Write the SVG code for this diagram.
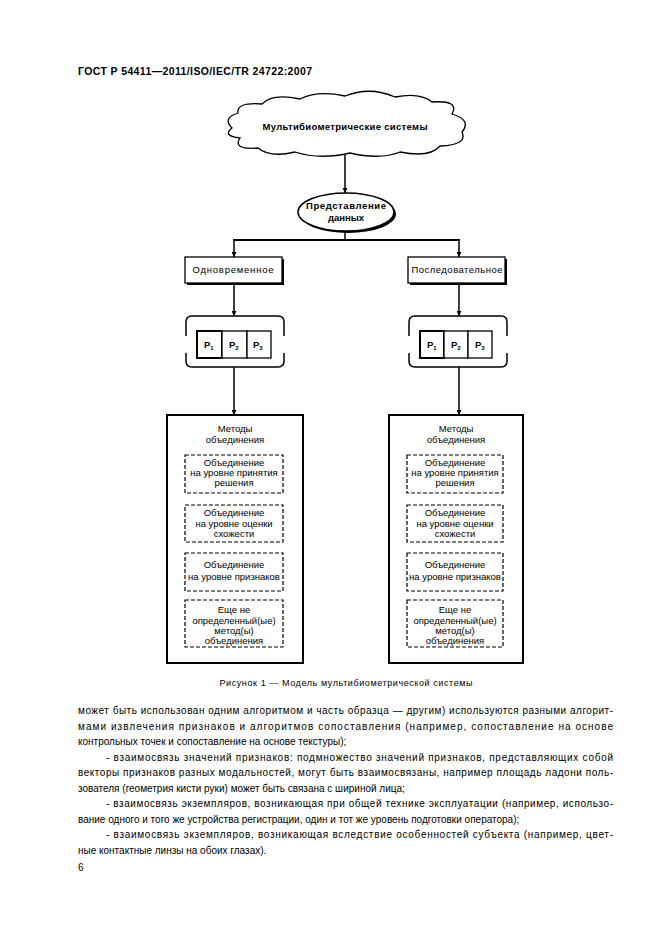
<svg xmlns="http://www.w3.org/2000/svg" width="661" height="936" viewBox="0 0 661 936">
<defs>
<marker id="arr" viewBox="0 0 10 10" refX="10" refY="5" markerWidth="5" markerHeight="5" orient="auto" markerUnits="userSpaceOnUse">
<path d="M0,0 L10,5 L0,10 z" fill="#000"/>
</marker>
<style>
text{font-family:"Liberation Sans",Arial,sans-serif;fill:#000}
.d{font-size:9.5px;text-anchor:middle}
.b{font-weight:bold}
.body{font-size:10px}
.ln{stroke:#000;stroke-width:1.5;fill:none}
.box{fill:#fff;stroke:#000;stroke-width:1.3}
.dash{fill:#fff;stroke:#000;stroke-width:1.2;stroke-dasharray:4 2}
.big{fill:#fff;stroke:#000;stroke-width:2}
</style>
</defs>
<rect width="661" height="936" fill="#fff"/>

<text x="78" y="75" font-size="10.5" font-weight="bold" textLength="234">ГОСТ Р 54411—2011/ISO/IEC/TR 24722:2007</text>

<g id="connectors">
<line class="ln" x1="345" y1="155" x2="345" y2="193" marker-end="url(#arr)"/>
<line class="ln" x1="345" y1="232" x2="345" y2="240"/>
<line x1="233" y1="240" x2="460" y2="240" stroke="#000" stroke-width="2"/>
<line class="ln" x1="234" y1="240" x2="234" y2="257" marker-end="url(#arr)"/>
<line class="ln" x1="459" y1="240" x2="459" y2="257" marker-end="url(#arr)"/>
<line class="ln" x1="234" y1="283" x2="234" y2="316" marker-end="url(#arr)"/>
<line class="ln" x1="459" y1="283" x2="459" y2="316" marker-end="url(#arr)"/>
<line class="ln" x1="234" y1="367" x2="234" y2="415" marker-end="url(#arr)"/>
<line class="ln" x1="459" y1="367" x2="459" y2="415" marker-end="url(#arr)"/>
</g>

<g id="cloud">
<path d="M232 128 Q222 118 238 113 Q236 102 262 104 Q272 93 300 99 Q318 90 345 96 Q370 86 395 97 Q420 92 432 102 Q460 100 452 114 Q472 120 462 132 Q468 145 440 146 Q430 158 400 152 Q380 160 350 153 Q320 160 295 152 Q270 158 258 148 Q232 150 240 138 Q222 136 232 128 Z" fill="#fff" stroke="#000" stroke-width="1.3"/>
<text class="d b" x="345" y="130" font-size="10" textLength="165">Мультибиометрические системы</text>
</g>

<g id="data">
<ellipse cx="348" cy="214" rx="48" ry="19" fill="#000"/>
<ellipse cx="346" cy="212" rx="48" ry="19" fill="#fff" stroke="#000" stroke-width="1.5"/>
<text class="d b" x="346" y="209" textLength="80">Представление</text>
<text class="d b" x="346" y="221">данных</text>
</g>

<g id="simultaneous">
<rect x="187" y="259" width="97" height="26" fill="#000"/>
<rect class="box" x="185" y="257" width="97" height="26"/>
<text class="d" x="233" y="273" font-size="10.5" textLength="81">Одновременное</text>
</g>

<g id="sequential">
<rect x="410" y="259" width="97" height="26" fill="#000"/>
<rect class="box" x="408" y="257" width="97" height="26"/>
<text class="d" x="457" y="273" font-size="10.5" textLength="91">Последовательное</text>
</g>

<g id="samples-left">
<path class="ln" d="M186 336 V322 Q186 316 192 316 H278 Q284 316 284 322 V336"/>
<path class="ln" d="M186 353 V361 Q186 367 192 367 H278 Q284 367 284 361 V353"/>
<rect x="197" y="331" width="25" height="27" fill="#fff" stroke="#000" stroke-width="2"/>
<rect class="box" x="222" y="331" width="25" height="27"/>
<rect class="box" x="247" y="331" width="24" height="27"/>
<text class="b" x="204" y="348" font-size="9.5">P<tspan font-size="6" dy="2">1</tspan></text>
<text class="b" x="229" y="348" font-size="9.5">P<tspan font-size="6" dy="2">2</tspan></text>
<text class="b" x="253" y="348" font-size="9.5">P<tspan font-size="6" dy="2">3</tspan></text>
</g>

<g id="samples-right">
<path class="ln" d="M409 336 V322 Q409 316 415 316 H501 Q507 316 507 322 V336"/>
<path class="ln" d="M409 353 V361 Q409 367 415 367 H501 Q507 367 507 361 V353"/>
<rect x="420" y="331" width="24" height="27" fill="#fff" stroke="#000" stroke-width="2"/>
<rect class="box" x="444" y="331" width="24" height="27"/>
<rect class="box" x="468" y="331" width="24" height="27"/>
<text class="b" x="427" y="348" font-size="9.5">P<tspan font-size="6" dy="2">1</tspan></text>
<text class="b" x="451" y="348" font-size="9.5">P<tspan font-size="6" dy="2">2</tspan></text>
<text class="b" x="475" y="348" font-size="9.5">P<tspan font-size="6" dy="2">3</tspan></text>
</g>

<g id="methods-left">
<rect class="big" x="167" y="415" width="136" height="248"/>
<text class="d" x="235" y="432">Методы</text>
<text class="d" x="235" y="443">объединения</text>
<rect class="dash" x="185" y="455" width="98" height="38"/>
<text class="d" x="234" y="466">Объединение</text>
<text class="d" x="234" y="476">на уровне принятия</text>
<text class="d" x="234" y="486">решения</text>
<rect class="dash" x="185" y="505" width="98" height="37"/>
<text class="d" x="234" y="516">Объединение</text>
<text class="d" x="234" y="527">на уровне оценки</text>
<text class="d" x="234" y="537">схожести</text>
<rect class="dash" x="185" y="553" width="98" height="38"/>
<text class="d" x="234" y="568">Объединение</text>
<text class="d" x="234" y="580">на уровне признаков</text>
<rect class="dash" x="185" y="600" width="98" height="47"/>
<text class="d" x="234" y="613">Еще не</text>
<text class="d" x="234" y="624">определенный(ые)</text>
<text class="d" x="234" y="634">метод(ы)</text>
<text class="d" x="234" y="644">объединения</text>
</g>

<g id="methods-right">
<rect class="big" x="389" y="415" width="134" height="248"/>
<text class="d" x="456" y="432">Методы</text>
<text class="d" x="456" y="443">объединения</text>
<rect class="dash" x="407" y="455" width="96" height="38"/>
<text class="d" x="455" y="466">Объединение</text>
<text class="d" x="455" y="476">на уровне принятия</text>
<text class="d" x="455" y="486">решения</text>
<rect class="dash" x="407" y="505" width="96" height="37"/>
<text class="d" x="455" y="516">Объединение</text>
<text class="d" x="455" y="527">на уровне оценки</text>
<text class="d" x="455" y="537">схожести</text>
<rect class="dash" x="407" y="553" width="96" height="38"/>
<text class="d" x="455" y="568">Объединение</text>
<text class="d" x="455" y="580">на уровне признаков</text>
<rect class="dash" x="407" y="600" width="96" height="47"/>
<text class="d" x="455" y="613">Еще не</text>
<text class="d" x="455" y="624">определенный(ые)</text>
<text class="d" x="455" y="634">метод(ы)</text>
<text class="d" x="455" y="644">объединения</text>
</g>

<text x="346" y="686" font-size="9" text-anchor="middle" textLength="253">Рисунок 1 — Модель мультибиометрической системы</text>

<g id="body-text">
<text class="body" x="78" y="714" textLength="535">может быть использован одним алгоритмом и часть образца — другим) используются разными алгорит-</text>
<text class="body" x="78" y="730" textLength="535">мами извлечения признаков и алгоритмов сопоставления (например, сопоставление на основе</text>
<text class="body" x="78" y="745">контрольных точек и сопоставление на основе текстуры);</text>
<text class="body" x="106" y="761" textLength="507">- взаимосвязь значений признаков: подмножество значений признаков, представляющих собой</text>
<text class="body" x="78" y="776" textLength="535">векторы признаков разных модальностей, могут быть взаимосвязаны, например площадь ладони поль-</text>
<text class="body" x="78" y="792">зователя (геометрия кисти руки) может быть связана с шириной лица;</text>
<text class="body" x="106" y="807" textLength="507">- взаимосвязь экземпляров, возникающая при общей технике эксплуатации (например, использо-</text>
<text class="body" x="78" y="823">вание одного и того же устройства регистрации, один и тот же уровень подготовки оператора);</text>
<text class="body" x="106" y="838" textLength="507">- взаимосвязь экземпляров, возникающая вследствие особенностей субъекта (например, цвет-</text>
<text class="body" x="78" y="854">ные контактные линзы на обоих глазах).</text>
<text class="body" x="78" y="871">6</text>
</g>
</svg>
